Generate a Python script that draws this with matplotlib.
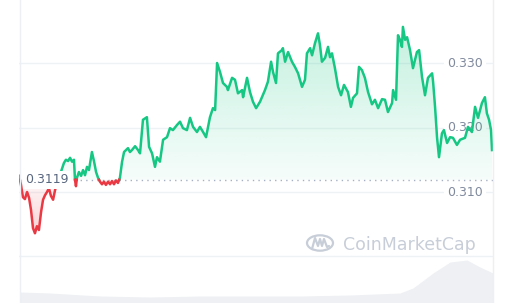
import matplotlib
matplotlib.use('Agg')
import matplotlib.pyplot as plt
import numpy as np
from matplotlib.patches import Polygon, Circle
from matplotlib.lines import Line2D
from matplotlib.colors import to_rgb

# Cours sur 24 h (heures depuis le début de la fenêtre)
heures = [0.00, 0.10, 0.20, 0.30, 0.41, 0.51, 0.61, 0.71, 0.81, 0.91,
          1.01, 1.12, 1.22, 1.32, 1.42, 1.52, 1.62, 1.73, 1.83, 1.93,
          2.03, 2.13, 2.28, 2.38, 2.49, 2.59, 2.69, 2.79, 2.84, 2.89,
          2.94, 3.04, 3.15, 3.25, 3.35, 3.45, 3.55, 3.65, 3.70, 3.81,
          3.91, 4.01, 4.11, 4.21, 4.31, 4.41, 4.52, 4.62, 4.72, 4.82,
          4.92, 5.02, 5.12, 5.23, 5.33, 5.43, 5.53, 5.63, 5.73, 5.89,
          6.04, 6.14, 6.29, 6.49, 6.60, 6.75, 6.90, 7.00, 7.15, 7.31,
          7.51, 7.66, 7.81, 8.02, 8.17, 8.32, 8.52, 8.68, 8.83, 9.03,
          9.18, 9.34, 9.49, 9.69, 9.84, 9.95, 10.05, 10.20, 10.35, 10.55,
          10.60, 10.81, 10.96, 11.11, 11.32, 11.37, 11.57, 11.72, 11.87, 12.03,
          12.23, 12.48, 12.63, 12.79, 12.89, 13.04, 13.14, 13.34, 13.39, 13.50,
          13.65, 13.85, 14.00, 14.16, 14.36, 14.51, 14.61, 14.77, 14.87, 15.02,
          15.17, 15.27, 15.37, 15.53, 15.68, 15.78, 15.88, 16.03, 16.19, 16.34,
          16.49, 16.69, 16.84, 16.95, 17.15, 17.25, 17.40, 17.55, 17.71, 17.91,
          18.06, 18.22, 18.42, 18.57, 18.72, 18.93, 18.98, 19.13, 19.23, 19.33,
          19.43, 19.48, 19.59, 19.69, 19.84, 19.99, 20.19, 20.30, 20.45, 20.60,
          20.75, 20.96, 21.01, 21.11, 21.21, 21.31, 21.46, 21.56, 21.72, 21.87,
          22.02, 22.22, 22.38, 22.63, 22.78, 22.98, 23.14, 23.29, 23.49, 23.64,
          23.74, 23.85, 23.95, 24.00]
prix = [0.3125, 0.3111, 0.3092, 0.3089, 0.3100, 0.3091, 0.3072, 0.3044, 0.3036, 0.3047,
        0.3041, 0.3069, 0.3088, 0.3095, 0.3100, 0.3106, 0.3094, 0.3088, 0.3103, 0.3114,
        0.3122, 0.3131, 0.3145, 0.3150, 0.3148, 0.3153, 0.3147, 0.3150, 0.3119, 0.3109,
        0.3122, 0.3131, 0.3125, 0.3134, 0.3126, 0.3139, 0.3134, 0.3153, 0.3162, 0.3147,
        0.3131, 0.3122, 0.3116, 0.3112, 0.3116, 0.3111, 0.3116, 0.3112, 0.3117, 0.3112,
        0.3118, 0.3114, 0.3122, 0.3147, 0.3162, 0.3165, 0.3168, 0.3162, 0.3165, 0.3171,
        0.3165, 0.3160, 0.3212, 0.3216, 0.3170, 0.3160, 0.3139, 0.3154, 0.3147, 0.3181,
        0.3185, 0.3199, 0.3196, 0.3204, 0.3209, 0.3199, 0.3196, 0.3215, 0.3201, 0.3193,
        0.3201, 0.3193, 0.3185, 0.3216, 0.3230, 0.3227, 0.3300, 0.3286, 0.3269, 0.3263,
        0.3258, 0.3277, 0.3274, 0.3253, 0.3258, 0.3247, 0.3277, 0.3255, 0.3240, 0.3230,
        0.3240, 0.3258, 0.3271, 0.3302, 0.3286, 0.3269, 0.3315, 0.3320, 0.3323, 0.3302,
        0.3317, 0.3302, 0.3294, 0.3284, 0.3263, 0.3274, 0.3315, 0.3323, 0.3312, 0.3331,
        0.3346, 0.3328, 0.3302, 0.3308, 0.3325, 0.3309, 0.3315, 0.3292, 0.3263, 0.3250,
        0.3266, 0.3255, 0.3232, 0.3246, 0.3253, 0.3294, 0.3289, 0.3277, 0.3255, 0.3236,
        0.3243, 0.3230, 0.3244, 0.3243, 0.3224, 0.3238, 0.3258, 0.3243, 0.3343, 0.3336,
        0.3325, 0.3356, 0.3336, 0.3340, 0.3320, 0.3292, 0.3317, 0.3320, 0.3278, 0.3250,
        0.3277, 0.3284, 0.3271, 0.3232, 0.3185, 0.3154, 0.3191, 0.3196, 0.3176, 0.3185,
        0.3184, 0.3173, 0.3181, 0.3184, 0.3201, 0.3193, 0.3232, 0.3215, 0.3238, 0.3247,
        0.3222, 0.3212, 0.3196, 0.3165]
prix_ref = 0.3119  # prix d'ouverture (ligne pointillée)

# Volume (unités relatives) en bas du graphique
vol_heures = [0.05, 1.57, 4.11, 6.65, 9.18, 11.72, 14.26, 16.80, 19.33, 19.99,
              21.01, 21.87, 22.73, 23.39, 24.05]
volume = [11, 10, 7, 6, 7, 7, 7, 8, 10, 15, 30, 41, 43, 36, 30]

grille = [0.300, 0.310, 0.320, 0.330]
ticks_prix = [0.310, 0.320, 0.330]
labels_prix = ['0.310', '0.320', '0.330']

VERT = '#16c784'
ROUGE = '#ea3943'
GRIS = '#808a9d'

W, H = 512, 303
fig = plt.figure(figsize=(W / 100, H / 100), dpi=100)
fig.patch.set_facecolor('white')

# Axe du volume (en bas)
ax_v = fig.add_axes([19 / W, 0, 474 / W, 47 / H])
ax_v.fill_between(vol_heures, volume, 0, color='#eef0f3', lw=0)
ax_v.set_xlim(0, 24.05)
ax_v.set_ylim(0, 47)
ax_v.axis('off')

# Axe du prix
ax = fig.add_axes([19 / W, 0, 474 / W, 1])
ax.patch.set_alpha(0)
y_bas, y_haut = 0.29279, 0.33977

for g in grille:
    ax.axhline(g, color='#eff2f5', lw=1, zorder=0.5)
for v, lab in zip(ticks_prix, labels_prix):
    ax.text(0.9785, v, lab, transform=ax.get_yaxis_transform(), ha='right', va='center',
            fontsize=9, color=GRIS, zorder=1,
            bbox=dict(boxstyle='square,pad=0.25', fc='white', ec='none'))

# Insertion des points de croisement avec la ligne de référence
t = np.array(heures)
p = np.array(prix)
tt, pp = [t[0]], [p[0]]
for i in range(1, len(t)):
    a, b = p[i - 1] - prix_ref, p[i] - prix_ref
    if a * b < 0:
        tt.append(t[i - 1] + (t[i] - t[i - 1]) * a / (a - b))
        pp.append(prix_ref)
    tt.append(t[i])
    pp.append(p[i])
tt, pp = np.array(tt), np.array(pp)

# Remplissage en dégradé (vert au-dessus, rouge en dessous)
poly_v = Polygon(np.column_stack([np.r_[tt[0], tt, tt[-1]],
                                  np.r_[prix_ref, np.maximum(pp, prix_ref), prix_ref]]),
                 closed=True, fc='none', ec='none')
poly_r = Polygon(np.column_stack([np.r_[tt[0], tt, tt[-1]],
                                  np.r_[prix_ref, np.minimum(pp, prix_ref), prix_ref]]),
                 closed=True, fc='none', ec='none')
ax.add_patch(poly_v)
ax.add_patch(poly_r)

grad_v = np.zeros((100, 1, 4))
grad_v[..., :3] = to_rgb(VERT)
grad_v[:, 0, 3] = np.linspace(0.25, 0.04, 100)
im_v = ax.imshow(grad_v, extent=[0, 24.05, prix_ref, p.max()], origin='upper',
                 aspect='auto', zorder=2, interpolation='bilinear')
im_v.set_clip_path(poly_v)

grad_r = np.zeros((100, 1, 4))
grad_r[..., :3] = to_rgb(ROUGE)
grad_r[:, 0, 3] = np.linspace(0.04, 0.22, 100)
im_r = ax.imshow(grad_r, extent=[0, 24.05, p.min(), prix_ref], origin='upper',
                 aspect='auto', zorder=2, interpolation='bilinear')
im_r.set_clip_path(poly_r)

# Ligne de référence pointillée + étiquette
ax.axhline(prix_ref, color='#a6b0c3', lw=1, ls=(0, (1, 3)), zorder=2.5)
ax.plot(np.ma.masked_where(pp < prix_ref, tt), np.ma.masked_where(pp < prix_ref, pp),
        color=VERT, lw=1.8, zorder=3, solid_joinstyle='round')
ax.plot(np.ma.masked_where(pp > prix_ref, tt), np.ma.masked_where(pp > prix_ref, pp),
        color=ROUGE, lw=1.8, zorder=3, solid_joinstyle='round')
ax.text(0.013, prix_ref, '0.3119', transform=ax.get_yaxis_transform(), ha='left', va='center',
        fontsize=9, color='#58667e', zorder=4,
        bbox=dict(boxstyle='square,pad=0.2', fc='white', ec='none'))

ax.set_xlim(0, 24.05)
ax.set_ylim(y_bas, y_haut)
ax.axis('off')

# Bordures verticales
for xp in (19.5, 493):
    fig.add_artist(Line2D([xp / W, xp / W], [0, 1], color='#eceff3', lw=1))

# Filigrane CoinMarketCap
fig.add_artist(Circle((320 / W, 1 - 243 / H), 13 / W, transform=fig.transFigure,
                      fill=False, ec='#c8ced8', lw=1.6))
logo_x = np.array([312, 315, 318, 320, 322, 324, 327, 329])
logo_y = np.array([249, 238, 246, 239, 246, 239, 247, 246])
fig.add_artist(Line2D(logo_x / W, 1 - logo_y / H, color='#c8ced8', lw=1.6,
                      solid_joinstyle='round', solid_capstyle='round'))
fig.text(343 / W, 1 - 245 / H, 'CoinMarketCap', fontsize=12.5, color='#c8ced8',
         ha='left', va='center')

fig.savefig('out.png', dpi=100)
